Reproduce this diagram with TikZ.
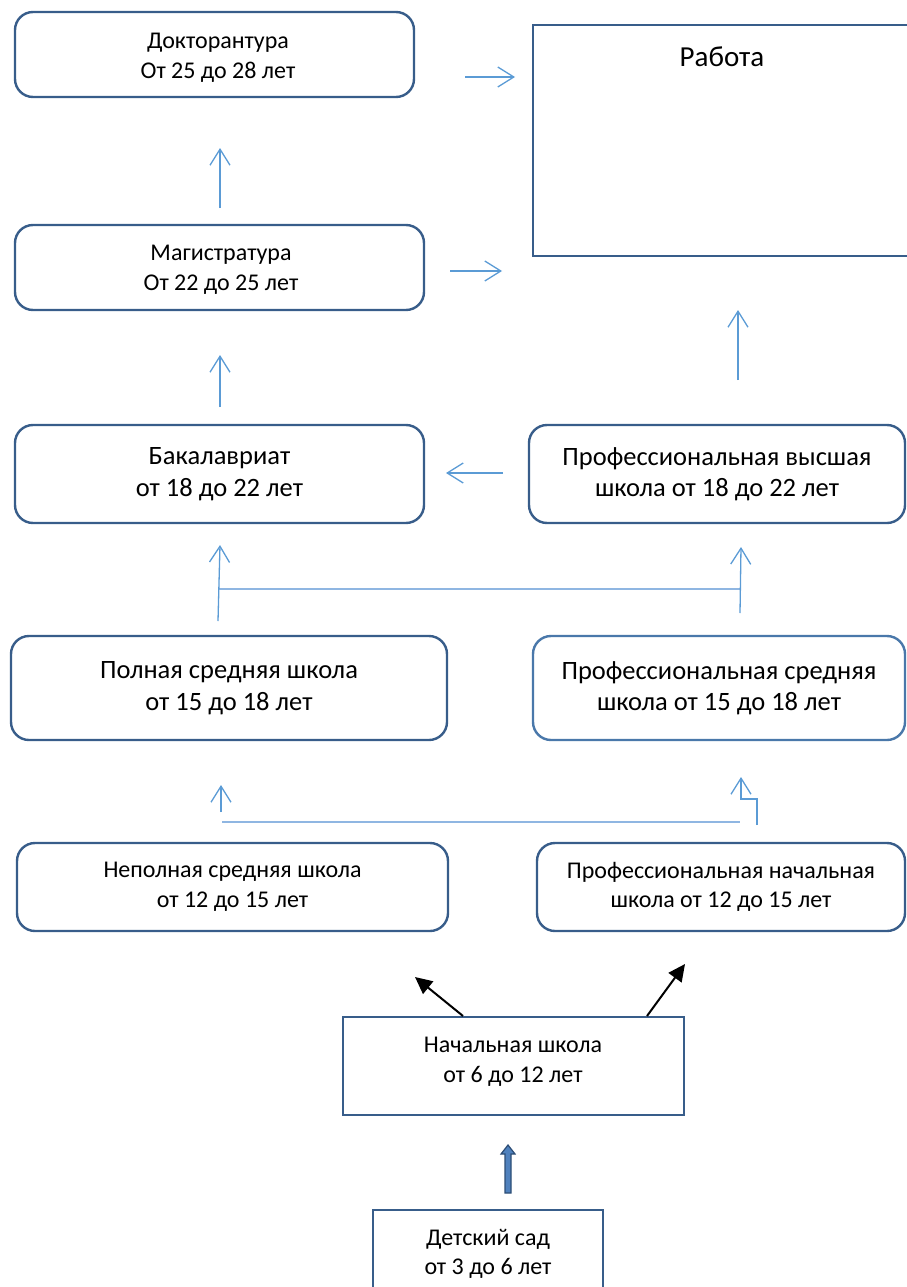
\documentclass[tikz,border=0pt]{standalone}
\usepackage{fontspec}
\setmainfont{Carlito}
\usetikzlibrary{arrows.meta}
\definecolor{boxc}{HTML}{385D8A}
\definecolor{boxcl}{HTML}{4A78AA}
\definecolor{arrc}{HTML}{5B9BD5}
\definecolor{linc}{HTML}{8FB6E2}
\definecolor{blkf}{HTML}{4F81BD}
\definecolor{blkd}{HTML}{2C4D75}
\tikzset{
  rbox/.style={draw=boxc, line width=2.4pt, rounded corners=18pt, align=center, inner sep=0pt},
  sbox/.style={draw=boxc, line width=2.4pt, align=center, inner sep=0pt},
  bigt/.style={font=\fontsize{26.5}{31.5}\selectfont},
  smallt/.style={font=\fontsize{24}{29.5}\selectfont},
  barrow/.style={draw=arrc, line width=1.3pt, -{Straight Barb[length=16pt,width=20pt,line width=1.3pt]}},
  hline/.style={draw=linc, line width=2pt},
  karrow/.style={draw=black, line width=2pt, -{Triangle[length=17pt,width=16pt]}}
}
\begin{document}
\begin{tikzpicture}[x=1pt,y=-1pt]
\useasboundingbox (0,0) rectangle (906,1287);
% boxes
\node[rbox, minimum width=399pt, minimum height=85pt] (dok) at (214.5,54.5) {};
\node[smallt, align=center] (dokt) at (218,58) {Докторантура\\От 25 до 28 лет};
\node[sbox, minimum width=377pt, minimum height=231pt] (rab) at (721.5,140.5) {};
\node[font=\fontsize{29}{34}\selectfont] (rabt) at (722,57) {Работа};
\node[rbox, minimum width=409pt, minimum height=85pt] (mag) at (219.5,267.5) {};
\node[smallt, align=center] (magt) at (221,270) {Магистратура\\От 22 до 25 лет};
\node[rbox, bigt, minimum width=409pt, minimum height=98pt] (bak) at (219.5,474) {Бакалавриат\\от 18 до 22 лет};
\node[rbox, bigt, minimum width=376pt, minimum height=98pt] (pvs) at (717,474) {Профессиональная высшая\\школа от 18 до 22 лет};
\node[rbox, bigt, minimum width=436pt, minimum height=104pt] (pol) at (229,688) {Полная средняя школа\\от 15 до 18 лет};
\node[rbox, bigt, draw=boxcl, minimum width=372pt, minimum height=104pt] (pss) at (719,688) {Профессиональная средняя\\школа от 15 до 18 лет};
\node[rbox, smallt, minimum width=431pt, minimum height=88pt] (nep) at (232.5,887) {Неполная средняя школа\\от 12 до 15 лет};
\node[rbox, smallt, minimum width=368pt, minimum height=88pt] (pns) at (721,887) {Профессиональная начальная\\школа от 12 до 15 лет};
\node[sbox, minimum width=341pt, minimum height=98pt] (nach) at (513.5,1066) {};
\node[smallt, align=center] (nacht) at (513,1062) {Начальная школа\\от 6 до 12 лет};
\node[sbox, smallt, minimum width=230pt, minimum height=88pt] (det) at (488,1254) {Детский сад\\от 3 до 6 лет};
% connector end points
\coordinate (a1s) at (465,77);   \coordinate (a1e) at (515,77);
\coordinate (a2s) at (220,208);  \coordinate (a2e) at (220,148);
\coordinate (a3s) at (450,271);  \coordinate (a3e) at (502,271);
\coordinate (a4s) at (220,407);  \coordinate (a4e) at (220,355);
\coordinate (a5s) at (738,380);  \coordinate (a5e) at (738,310);
\coordinate (a6s) at (503,473);  \coordinate (a6e) at (446,473);
\coordinate (a7s) at (218,621);  \coordinate (a7e) at (220,545);
\coordinate (a8s) at (740,613);  \coordinate (a8e) at (741,547);
\coordinate (h1s) at (218,589);  \coordinate (h1e) at (740,589);
\coordinate (a9s) at (221,812);  \coordinate (a9e) at (221,785);
\coordinate (h2s) at (222,822);  \coordinate (h2e) at (740,822);
\coordinate (hk1) at (757,825);  \coordinate (hk2) at (757,799);
\coordinate (hk3) at (741,799);  \coordinate (hk4) at (741,777);
\coordinate (k1s) at (463,1016); \coordinate (k1e) at (415,977);
\coordinate (k2s) at (647,1016); \coordinate (k2e) at (685,964);
% light blue arrows
\draw[barrow] (a1s) -- (a1e);
\draw[barrow] (a2s) -- (a2e);
\draw[barrow] (a3s) -- (a3e);
\draw[barrow] (a4s) -- (a4e);
\draw[barrow] (a5s) -- (a5e);
\draw[barrow] (a6s) -- (a6e);
\draw[hline] (h1s) -- (h1e);
\draw[barrow] (a7s) -- (a7e);
\draw[barrow] (a8s) -- (a8e);
\draw[hline] (h2s) -- (h2e);
\draw[barrow] (a9s) -- (a9e);
\draw[barrow] (hk1) -- (hk2) -- (hk3) -- (hk4);
% black arrows
\draw[karrow] (k1s) -- (k1e);
\draw[karrow] (k2s) -- (k2e);
% block arrow from kindergarten
\draw[draw=blkd, fill=blkf, line width=1.2pt, line join=miter]
  (505,1193) -- (505,1154) -- (501,1154) -- (508,1145) -- (515,1154) -- (511,1154) -- (511,1193) -- cycle;
\end{tikzpicture}
\end{document}
